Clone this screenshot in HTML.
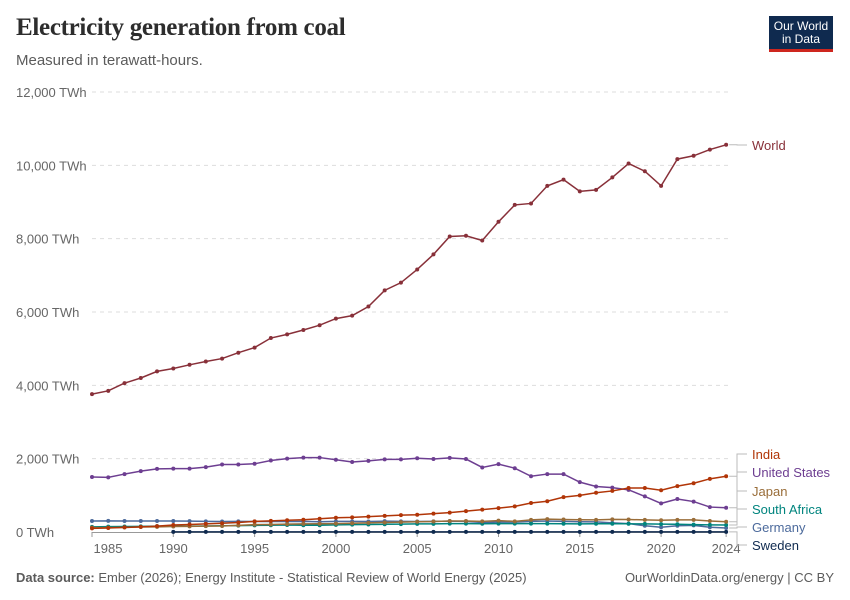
<!DOCTYPE html>
<html><head><meta charset="utf-8">
<style>
body{margin:0;background:#fff;font-family:"Liberation Sans",sans-serif;}
#wrap{position:relative;width:850px;height:600px;overflow:hidden;}
.title{position:absolute;left:16px;top:14px;font-family:"Liberation Serif",serif;font-weight:bold;font-size:25px;color:#2d2d2d;letter-spacing:-0.3px;}
.sub{position:absolute;left:16px;top:52px;font-size:15px;color:#5b5b5b;}
.logo{position:absolute;left:769px;top:16px;width:64px;height:36px;background:#0f2a4f;border-bottom:3px solid #ce261e;color:#fff;font-size:12px;line-height:13px;text-align:center;box-sizing:border-box;display:flex;align-items:center;justify-content:center;}
.foot{position:absolute;top:570px;font-size:13px;color:#5b5b5b;}
</style></head><body>
<div id="wrap">
<div class="title">Electricity generation from coal</div>
<div class="sub">Measured in terawatt-hours.</div>
<div class="logo">Our World<br>in Data</div>
<svg id="svg" width="850" height="600" style="position:absolute;left:0;top:0"></svg>
<div class="foot" style="left:16px"><b>Data source:</b> Ember (2026); Energy Institute - Statistical Review of World Energy (2025)</div>
<div class="foot" style="right:16px">OurWorldinData.org/energy | CC BY</div>
</div>
<script>
const years=[];for(let y=1985;y<=2024;y++)years.push(y);
const yTicks=[0,2000,4000,6000,8000,10000,12000];
const yTickLabels=["0 TWh","2,000 TWh","4,000 TWh","6,000 TWh","8,000 TWh","10,000 TWh","12,000 TWh"];
const xTicks=[1985,1990,1995,2000,2005,2010,2015,2020,2024];
const world=[3760,3850,4060,4200,4380,4460,4560,4650,4730,4890,5030,5290,5390,5510,5640,5820,5900,6150,6590,6800,7160,7570,8060,8080,7950,8460,8920,8960,9440,9610,9290,9330,9670,10050,9840,9440,10170,10260,10430,10560];
const usa=[1500,1490,1580,1660,1720,1730,1730,1770,1840,1840,1860,1950,2000,2030,2030,1970,1910,1940,1980,1980,2010,1990,2020,1990,1760,1850,1740,1520,1580,1580,1360,1240,1210,1150,970,780,900,830,680,660];
const india=[100,110,125,140,160,190,205,220,240,260,290,305,320,335,360,390,400,420,440,460,470,500,530,570,610,650,700,790,840,950,1000,1070,1120,1200,1200,1140,1250,1330,1450,1520];
const japan=[120,120,125,135,140,150,155,160,165,180,200,205,215,220,225,230,240,250,260,270,280,285,300,300,290,310,290,330,350,340,335,330,345,340,330,320,330,330,300,280];
const southAfrica=[140,145,150,155,160,160,160,165,170,175,180,185,190,185,185,195,200,205,210,215,220,220,230,230,225,230,230,230,230,225,220,225,225,225,220,215,210,200,195,190];
const germany=[300,305,300,300,300,300,295,290,285,290,285,290,285,290,280,290,290,285,295,290,285,290,295,290,260,270,270,290,300,290,280,275,250,230,170,130,170,180,130,110];
const sweden=[null,null,null,null,null,2,2,2,2,2,2,2,2,2,2,2,2,2,2,2,2,2,2,2,2,2,2,2,2,2,2,2,2,2,2,2,2,2,2,2];
const series=[
 {name:"World",vals:world,color:"#883039",ly:145},
 {name:"India",vals:india,color:"#b13507",ly:454},
 {name:"United States",vals:usa,color:"#6d3e91",ly:472},
 {name:"Japan",vals:japan,color:"#996d39",ly:491},
 {name:"South Africa",vals:southAfrica,color:"#00847e",ly:509},
 {name:"Germany",vals:germany,color:"#4c6a9c",ly:527},
 {name:"Sweden",vals:sweden,color:"#0f2a4f",ly:545}];
const X=y=>92+(y-1985)*16.26;
const Y=v=>532-v*0.036667;
const svg=document.getElementById('svg');const NS="http://www.w3.org/2000/svg";
function mk(t,a,p){const e=document.createElementNS(NS,t);for(const k in a)e.setAttribute(k,a[k]);(p||svg).appendChild(e);return e;}
yTicks.forEach((v,i)=>{
 if(v>0){const l=mk('line',{x1:92,x2:728,y1:Y(v),y2:Y(v),stroke:'#ddd','stroke-dasharray':'4,4'});
 
 }
 const t=mk('text',{x:16,y:Y(v)+5,'font-size':13,fill:'#666'});t.textContent=yTickLabels[i];
 
 
});
const ax=mk('line',{x1:92,x2:728,y1:532.5,y2:532.5,stroke:'#999'});


xTicks.forEach(y=>{
 mk('line',{x1:X(y),x2:X(y),y1:532,y2:537,stroke:'#999'});
 const t=mk('text',{x:y===1985?X(y)+16:X(y),y:553,'font-size':13,fill:'#666','text-anchor':'middle'});t.textContent=y;
 
 
});
series.slice().reverse().forEach(s=>{
 const pts=[];s.vals.forEach((v,i)=>{if(v!==null)pts.push([X(years[i]),Y(v)]);});
 const g=mk('g',{});
 
 
 mk('polyline',{points:pts.map(p=>p.join(',')).join(' '),fill:'none',stroke:s.color,'stroke-width':1.5},g);
 pts.forEach(p=>mk('circle',{cx:p[0],cy:p[1],r:2,fill:s.color},g));
 const last=pts[pts.length-1];
 mk('path',{d:`M${last[0]+3},${last[1]} H737 V${s.ly} H747`,fill:'none',stroke:'#bbb','stroke-width':1},g);
 const t=mk('text',{x:752,y:s.ly+5,'font-size':13,fill:s.color},g);t.textContent=s.name;
 
 
});
</script>
</body></html>
